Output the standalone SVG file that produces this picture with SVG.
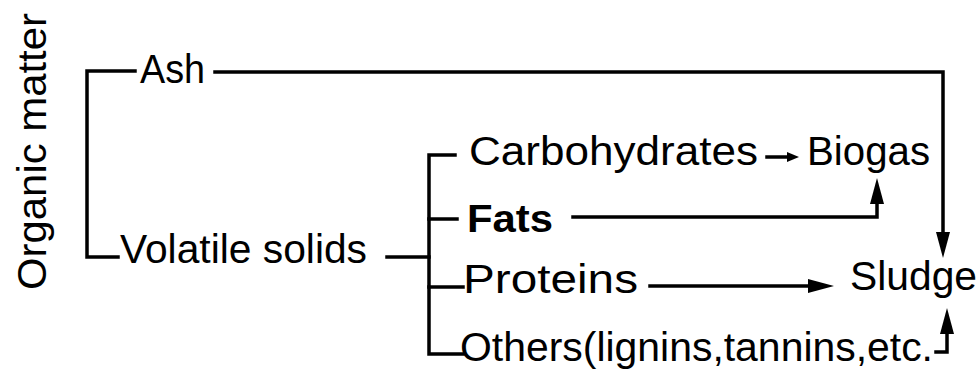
<svg xmlns="http://www.w3.org/2000/svg" width="980" height="376" viewBox="0 0 980 376">
<style>
  .lbl { font-family: "Liberation Sans", Arial, sans-serif; font-size: 40px; fill: #000; }
  .sm { font-size: 38px; }
  .conn { fill: none; stroke: #000; stroke-width: 3.5; stroke-linejoin: miter; stroke-linecap: square; }
</style>
<defs>
  <marker id="big" markerUnits="userSpaceOnUse" markerWidth="26" markerHeight="14" refX="0" refY="7" orient="auto">
    <path d="M0,0 L26,7 L0,14 Z" fill="#000"/>
  </marker>
  <marker id="small" markerUnits="userSpaceOnUse" markerWidth="12" markerHeight="10" refX="0" refY="5" orient="auto">
    <path d="M0,0 L12,5 L0,10 Z" fill="#000"/>
  </marker>
</defs>
<rect width="980" height="376" fill="#fff"/>
<g id="connectors">
  <path class="conn" d="M135,71 H87 V257 H118"/>
  <path class="conn" d="M215,72 H943 V232" marker-end="url(#big)"/>
  <path class="conn" d="M387,257 H429"/>
  <path class="conn" d="M455,155 H429 V354 H463"/>
  <path class="conn" d="M429,219 H457"/>
  <path class="conn" d="M429,287 H463"/>
  <path class="conn" d="M767,157 H787" marker-end="url(#small)"/>
  <path class="conn" d="M573,217 H877 V204" marker-end="url(#big)"/>
  <path class="conn" d="M650,286 H808" marker-end="url(#big)"/>
  <path class="conn" d="M936,352 H947 V334" marker-end="url(#big)"/>
</g>
<g id="node-organic-matter">
  <text class="lbl" x="46" y="290" transform="rotate(-90 46 290)" textLength="277" lengthAdjust="spacingAndGlyphs">Organic matter</text>
</g>
<g id="node-ash">
  <text class="lbl" x="140" y="83" textLength="65" lengthAdjust="spacingAndGlyphs">Ash</text>
</g>
<g id="node-volatile-solids">
  <text class="lbl" x="120" y="263" textLength="247" lengthAdjust="spacingAndGlyphs">Volatile solids</text>
</g>
<g id="node-carbohydrates">
  <text class="lbl" x="469" y="165" textLength="289" lengthAdjust="spacingAndGlyphs">Carbohydrates</text>
</g>
<g id="node-biogas">
  <text class="lbl" x="807" y="165" textLength="123" lengthAdjust="spacingAndGlyphs">Biogas</text>
</g>
<g id="node-fats">
  <text class="lbl sm" x="467" y="232" textLength="86" lengthAdjust="spacingAndGlyphs" font-weight="bold">Fats</text>
</g>
<g id="node-proteins">
  <text class="lbl" x="463" y="293" textLength="175" lengthAdjust="spacingAndGlyphs">Proteins</text>
</g>
<g id="node-sludge">
  <text class="lbl" x="850" y="290" textLength="127" lengthAdjust="spacingAndGlyphs">Sludge</text>
</g>
<g id="node-others">
  <text class="lbl" x="460" y="361" textLength="473" lengthAdjust="spacingAndGlyphs">Others(lignins,tannins,etc.</text>
</g>
</svg>
